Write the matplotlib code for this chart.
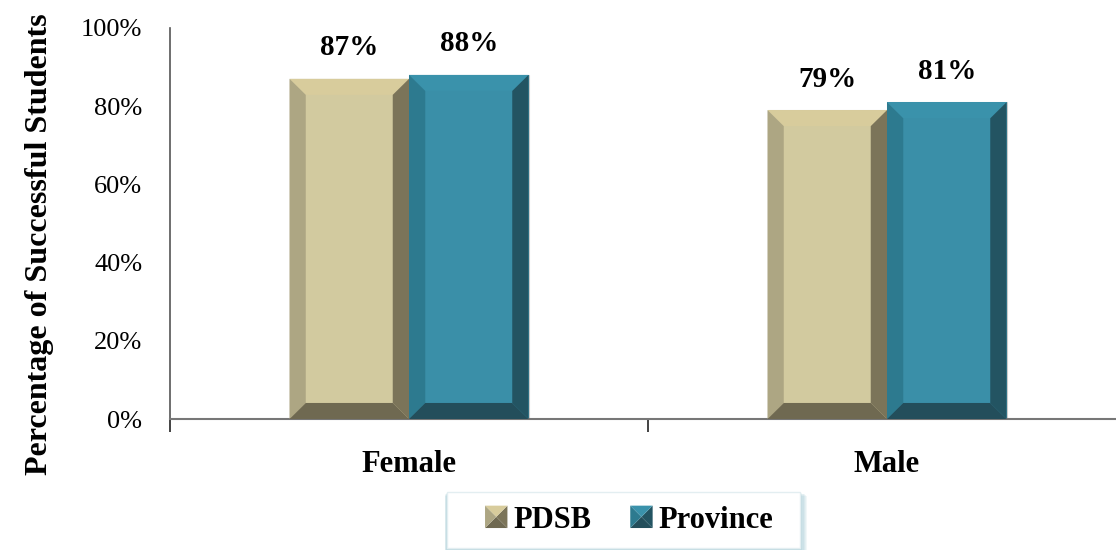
import numpy as np
import matplotlib.pyplot as plt
from matplotlib.patches import Polygon, Rectangle
from matplotlib.legend_handler import HandlerBase

categories = ["Female", "Male"]
series = ["PDSB", "Province"]
pdsb = [87, 79]
province = [88, 81]
yticks = [0, 20, 40, 60, 80, 100]

# face, top, left, right, bottom bevel colours
palette = {
    "PDSB": ["#D2CA9F", "#D8CC9C", "#ADA683", "#7B7459", "#6F6951"],
    "Province": ["#3A8FA8", "#3A92AB", "#2D7A8F", "#235462", "#234E5B"],
}

plt.rcParams["font.family"] = ["Liberation Serif", "DejaVu Serif"]

fig = plt.figure(figsize=(11.16, 5.5), dpi=100)
ax = fig.add_axes([170 / 1116, 131 / 550, 956 / 1116, 391 / 550])

x = np.arange(len(categories))
width = 0.25
bx = 0.034  # bevel width (data units)
by = 4.1  # bevel height (%)


def bevel_bar(x0, h, cols):
    x1 = x0 + width
    face, top, left, right, bottom = cols
    ax.add_patch(Polygon([(x0, 0), (x1, 0), (x1, h), (x0, h)], closed=True,
                         facecolor=face, edgecolor="none", zorder=2))
    ax.add_patch(Polygon([(x0, h), (x1, h), (x1 - bx, h - by), (x0 + bx, h - by)],
                         facecolor=top, edgecolor="none", zorder=3))
    ax.add_patch(Polygon([(x0, 0), (x0 + bx, by), (x0 + bx, h - by), (x0, h)],
                         facecolor=left, edgecolor="none", zorder=3))
    ax.add_patch(Polygon([(x1, 0), (x1, h), (x1 - bx, h - by), (x1 - bx, by)],
                         facecolor=right, edgecolor="none", zorder=3))
    ax.add_patch(Polygon([(x0, 0), (x1, 0), (x1 - bx, by), (x0 + bx, by)],
                         facecolor=bottom, edgecolor="none", zorder=3))
    # soft shadow outline
    ax.add_patch(Polygon([(x0, 0), (x1, 0), (x1, h), (x0, h)], closed=True,
                         facecolor="none", edgecolor="#999999", lw=0.8,
                         alpha=0.5, zorder=1.5))


for vals, name, off in [(pdsb, "PDSB", -width), (province, "Province", 0)]:
    for xi, v in zip(x, vals):
        bevel_bar(xi + off, v, palette[name])
        ax.text(xi + off + width / 2, v + 4.5, f"{v}%", ha="center", va="bottom",
                fontsize=21, fontweight="bold", color="black")

ax.set_xlim(-0.5, 1.5)
ax.set_ylim(0, 100)
ax.set_yticks(yticks)
ax.set_yticklabels([f"{t}%" for t in yticks], fontsize=19)
ax.tick_params(axis="y", length=0, pad=20)
ax.set_xticks(x)
ax.set_xticklabels(categories, fontsize=22, fontweight="bold")
ax.tick_params(axis="x", length=0, pad=22)
ax.set_xticks([-0.5, 0.5, 1.5], minor=True)
ax.tick_params(axis="x", which="minor", length=9, width=1.2, color="#222222")
for s in ["top", "right"]:
    ax.spines[s].set_visible(False)
ax.spines["left"].set_color("#555555")
ax.spines["bottom"].set_color("#777777")
ax.spines["left"].set_linewidth(1.2)
ax.spines["bottom"].set_linewidth(1.5)
ax.set_ylabel("Percentage of Successful Students", fontsize=23, fontweight="bold")
ax.yaxis.set_label_coords(-116 / 956, 0.448)


class PyramidHandler(HandlerBase):
    def create_artists(self, legend, orig_handle, xdescent, ydescent, width, height,
                       fontsize, trans):
        cols = palette[orig_handle]
        s = min(width, height)
        x0 = -xdescent + (width - s)
        y0 = -ydescent + (height - s) / 2
        cx, cy = x0 + s / 2, y0 + s / 2
        corners = [(x0, y0), (x0 + s, y0), (x0 + s, y0 + s), (x0, y0 + s)]
        shades = [cols[4], cols[3], cols[1], cols[2]]
        arts = []
        for i in range(4):
            p = Polygon([corners[i], corners[(i + 1) % 4], (cx, cy)],
                        facecolor=shades[i], edgecolor="none", transform=trans)
            arts.append(p)
        return arts


# legend box with a soft teal glow
bx0, by0, bw, bh = 447 / 1116, 2 / 550, 353 / 1116, 56 / 550
for k in range(6, 0, -1):
    fig.patches.append(Rectangle((bx0 - k * 0.4 / 1116, by0 - k * 1.2 / 550),
                                 bw + k * 1.6 / 1116, bh + k * 0.6 / 550,
                                 transform=fig.transFigure, facecolor="#3A8FA8",
                                 edgecolor="none", alpha=0.07, zorder=0))
fig.patches.append(Rectangle((bx0, by0), bw, bh, transform=fig.transFigure,
                             facecolor="white", edgecolor="#E3EEF1", lw=1.0,
                             zorder=0.5))

leg = fig.legend(series, series, handler_map={str: PyramidHandler()},
                 loc="center", bbox_to_anchor=(629 / 1116, 30 / 550),
                 ncol=2, frameon=False, borderpad=0.3,
                 handlelength=0.75, handleheight=0.75, handletextpad=0.2,
                 columnspacing=1.25, prop={"size": 22, "weight": "bold"})

fig.savefig("out.png", dpi=100)
